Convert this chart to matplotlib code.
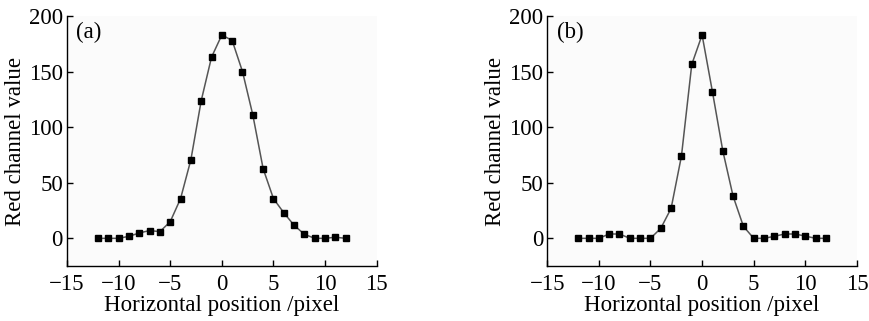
import matplotlib
matplotlib.use("Agg")
import matplotlib.pyplot as plt

x_pos = list(range(-12, 13))
red_a = [0, 0, 0, 1.8, 4.8, 7, 6, 15, 35.7, 70.7, 123.8, 163, 183, 178, 150, 111,
         62.6, 35.7, 23, 11.7, 3.6, 0, 0, 1, 0]
red_b = [0, 0, 0, 3.9, 3.9, 0, 0, 0, 9, 27, 74, 156.5, 183, 132, 79, 38,
         10.8, 0, 0, 1.8, 3.9, 3.9, 2, 0, 0]
panel_labels = ["(a)", "(b)"]
xticks = [-15, -10, -5, 0, 5, 10, 15]
yticks = [0, 50, 100, 150, 200]

plt.rcParams['font.family'] = ['Liberation Serif', 'DejaVu Serif']

fig = plt.figure(figsize=(8.7, 3.21), dpi=100)
rects = [[0.077, 0.171, 0.356, 0.779], [0.629, 0.171, 0.356, 0.779]]
for rect, data, lab in zip(rects, [red_a, red_b], panel_labels):
    ax = fig.add_axes(rect)
    ax.set_facecolor('#fbfbfb')
    ax.plot(x_pos, data, color='#555555', lw=1.1, marker='s', ms=4.3,
            mfc='black', mec='black')
    ax.set_xlim(-15, 15)
    ax.set_ylim(-25, 200)
    ax.set_xticks(xticks)
    ax.set_yticks(yticks)
    ax.set_xticklabels([str(t).replace('-', '\u2212') for t in xticks])
    for s in ['top', 'right']:
        ax.spines[s].set_visible(False)
    for s in ['left', 'bottom']:
        ax.spines[s].set_linewidth(1.0)
    ax.tick_params(direction='in', length=4, width=1, labelsize=16.5)
    ax.tick_params(axis='x', pad=6)
    ax.tick_params(axis='y', pad=3)
    ax.set_xlabel('Horizontal position /pixel', fontsize=16.5, labelpad=0)
    ax.set_ylabel('Red channel value', fontsize=16.5, labelpad=2)
    ax.text(0.03, 0.975, lab, transform=ax.transAxes, fontsize=16.5,
            va='top', ha='left')

fig.savefig('out.png', dpi=100, facecolor='white')
